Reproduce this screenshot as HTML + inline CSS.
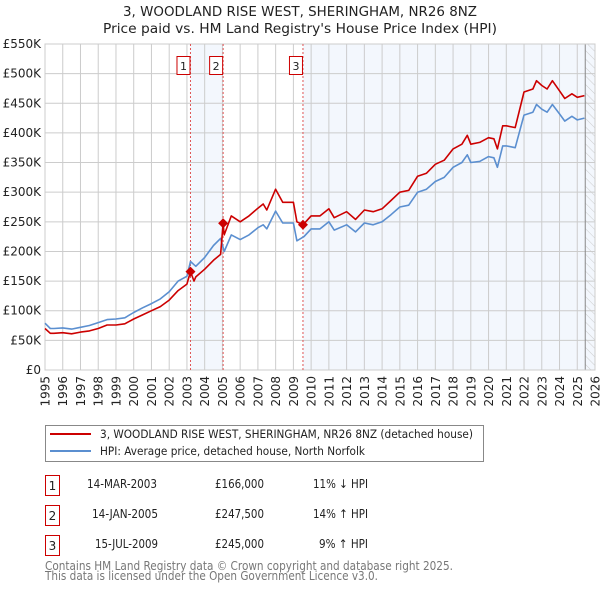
<!DOCTYPE html>
<html><head><meta charset="utf-8"><style>
body{margin:0;background:#fff;font-family:"Liberation Sans","DejaVu Sans",sans-serif;}
svg text{font-family:"DejaVu Sans","Liberation Sans",sans-serif;}
</style></head><body>
<svg id="c" width="600" height="590" xmlns="http://www.w3.org/2000/svg">
<defs><pattern id="hatch" width="6" height="6" patternUnits="userSpaceOnUse" patternTransform="rotate(-45)"><line x1="0" y1="0" x2="0" y2="6" stroke="#ccc" stroke-width="1"/></pattern></defs>
<text x="300" y="16" text-anchor="middle" font-size="13" fill="#222" textLength="354" lengthAdjust="spacingAndGlyphs">3, WOODLAND RISE WEST, SHERINGHAM, NR26 8NZ</text>
<text x="300" y="33" text-anchor="middle" font-size="13" fill="#222" textLength="394" lengthAdjust="spacingAndGlyphs">Price paid vs. HM Land Registry's House Price Index (HPI)</text>
<g id="plot"></g>
<g>
<rect x="45.5" y="425.5" width="438" height="36" fill="#fff" stroke="#888"/>
<line x1="50" y1="434" x2="91" y2="434" stroke="#cc0000" stroke-width="2"/>
<text x="100" y="438" font-size="11.5" fill="#222" textLength="373" lengthAdjust="spacingAndGlyphs">3, WOODLAND RISE WEST, SHERINGHAM, NR26 8NZ (detached house)</text>
<line x1="50" y1="451" x2="91" y2="451" stroke="#5b8fd0" stroke-width="2"/>
<text x="100" y="455" font-size="11.5" fill="#222" textLength="265" lengthAdjust="spacingAndGlyphs">HPI: Average price, detached house, North Norfolk</text>
</g>
<g font-size="12" fill="#222">
<rect x="45.5" y="475.5" width="14" height="20" fill="#fff" stroke="#cc0000"/><text x="52.5" y="490" text-anchor="middle">1</text>
<text x="87" y="488" textLength="70" lengthAdjust="spacingAndGlyphs">14-MAR-2003</text><text x="215" y="488" textLength="49" lengthAdjust="spacingAndGlyphs">£166,000</text><text x="313" y="488" textLength="55" lengthAdjust="spacingAndGlyphs">11% ↓ HPI</text>
<rect x="45.5" y="505.5" width="14" height="20" fill="#fff" stroke="#cc0000"/><text x="52.5" y="520" text-anchor="middle">2</text>
<text x="92" y="518" textLength="66" lengthAdjust="spacingAndGlyphs">14-JAN-2005</text><text x="215" y="518" textLength="49" lengthAdjust="spacingAndGlyphs">£247,500</text><text x="313" y="518" textLength="55" lengthAdjust="spacingAndGlyphs">14% ↑ HPI</text>
<rect x="45.5" y="535.5" width="14" height="20" fill="#fff" stroke="#cc0000"/><text x="52.5" y="550" text-anchor="middle">3</text>
<text x="95" y="548" textLength="63" lengthAdjust="spacingAndGlyphs">15-JUL-2009</text><text x="215" y="548" textLength="49" lengthAdjust="spacingAndGlyphs">£245,000</text><text x="319" y="548" textLength="49" lengthAdjust="spacingAndGlyphs">9% ↑ HPI</text>
</g>
<text x="45" y="570" font-size="12" fill="#777" textLength="408" lengthAdjust="spacingAndGlyphs">Contains HM Land Registry data © Crown copyright and database right 2025.</text>
<text x="45" y="580" font-size="12" fill="#777" textLength="333" lengthAdjust="spacingAndGlyphs">This data is licensed under the Open Government Licence v3.0.</text>
</svg>
<script>
const hpiYears=[1995,1995.3,1995.5,1996,1996.5,1997,1997.5,1998,1998.5,1999,1999.5,2000,2000.5,2001,2001.5,2002,2002.5,2003,2003.2,2003.5,2004,2004.5,2004.9,2005.1,2005.5,2006,2006.5,2007,2007.3,2007.5,2008,2008.4,2009,2009.2,2009.6,2010,2010.5,2011,2011.3,2012,2012.5,2013,2013.5,2014,2014.5,2015,2015.5,2016,2016.5,2017,2017.5,2018,2018.5,2018.8,2019,2019.5,2020,2020.3,2020.5,2020.8,2021,2021.5,2022,2022.5,2022.7,2023,2023.3,2023.6,2024,2024.3,2024.7,2025,2025.4];
const hpiValues=[79,70,70,71,69,72,75,80,85,86,88,97,105,112,120,132,150,158,183,175,190,210,222,200,228,220,228,240,245,238,268,248,248,218,225,238,238,250,236,245,233,248,245,250,262,275,278,300,305,318,325,342,350,363,350,352,360,358,342,378,378,375,430,435,448,440,435,448,432,420,428,422,425];
const redYears=[1995,1995.3,1995.5,1996,1996.5,1997,1997.5,1998,1998.5,1999,1999.5,2000,2000.5,2001,2001.5,2002,2002.5,2003,2003.2,2003.4,2003.5,2004,2004.5,2004.9,2005.04,2005.1,2005.5,2006,2006.5,2007,2007.3,2007.5,2008,2008.4,2009,2009.2,2009.54,2010,2010.5,2011,2011.3,2012,2012.5,2013,2013.5,2014,2014.5,2015,2015.5,2016,2016.5,2017,2017.5,2018,2018.5,2018.8,2019,2019.5,2020,2020.3,2020.5,2020.8,2021,2021.5,2022,2022.5,2022.7,2023,2023.3,2023.6,2024,2024.3,2024.7,2025,2025.4];
const redValues=[70,62,62,63,61,64,66,70,76,76,78,86,93,100,107,118,134,145,166,150,157,170,185,195,247.5,228,260,250,260,273,280,270,305,283,283,250,245,260,260,272,257,267,254,270,267,272,286,300,303,327,332,347,354,373,381,396,381,384,392,390,373,412,412,409,469,474,488,480,474,488,471,458,466,460,463];
const saleYears=[2003.2,2005.04,2009.54];
const saleValues=[166,247.5,245];
const saleLabels=["1","2","3"];
const yTicks=[0,50,100,150,200,250,300,350,400,450,500,550];
const yTickLabels=["£0","£50K","£100K","£150K","£200K","£250K","£300K","£350K","£400K","£450K","£500K","£550K"];
const xTicks=[1995,1996,1997,1998,1999,2000,2001,2002,2003,2004,2005,2006,2007,2008,2009,2010,2011,2012,2013,2014,2015,2016,2017,2018,2019,2020,2021,2022,2023,2024,2025,2026];
const dataEndYear=2025.45;

const X0=45,X1=595,Y0=370,Y1=44;
const xs=y=>X0+(y-1995)/(2026-1995)*(X1-X0);
const ys=v=>Y0-v/550*(Y0-Y1);
const NS="http://www.w3.org/2000/svg";
const g=document.getElementById('plot');
function mk(t,a,p){const e=document.createElementNS(NS,t);for(const k in a)e.setAttribute(k,a[k]);(p||g).appendChild(e);return e;}
let sh=mk('rect',{x:xs(saleYears[0]),y:Y1,width:xs(saleYears[1])-xs(saleYears[0]),height:Y0-Y1,fill:'#eef3fc',opacity:0.7});


sh=mk('rect',{x:xs(saleYears[2]),y:Y1,width:X1-xs(saleYears[2]),height:Y0-Y1,fill:'#eef3fc',opacity:0.7});


yTicks.forEach((v,i)=>{
  mk('line',{x1:X0,x2:X1,y1:ys(v),y2:ys(v),stroke:'#ccc','stroke-width':1});
  const t=mk('text',{x:X0-4,y:ys(v)+4,'text-anchor':'end','font-size':12,fill:'#222'});
  t.textContent=yTickLabels[i];
  
  
});
xTicks.forEach(y=>{
  mk('line',{x1:xs(y),x2:xs(y),y1:Y1,y2:Y0,stroke:'#ccc','stroke-width':1});
  const t=mk('text',{x:0,y:0,'text-anchor':'end','font-size':12,fill:'#222',transform:`translate(${xs(y)+4.5},376) rotate(-90)`});
  t.textContent=y;
  
  
});
const hr=mk('rect',{x:xs(dataEndYear),y:Y1,width:X1-xs(dataEndYear),height:Y0-Y1,fill:'url(#hatch)'});


mk('line',{x1:xs(dataEndYear),x2:xs(dataEndYear),y1:Y1,y2:Y0,stroke:'#888','stroke-width':1});
mk('rect',{x:X0,y:Y1,width:X1-X0,height:Y0-Y1,fill:'none',stroke:'#ccc'});
saleYears.forEach((s,i)=>{
  mk('line',{x1:xs(s),x2:xs(s),y1:Y1,y2:Y0,stroke:'#e05555','stroke-width':1,'stroke-dasharray':'2,2'});
  const r=mk('rect',{x:xs(s)-13.5,y:56.5,width:13,height:18,fill:'#fff',stroke:'#cc0000'});
  
  
  const t=mk('text',{x:xs(s)-7,y:70,'text-anchor':'middle','font-size':11,fill:'#222'});
  t.textContent=saleLabels[i];
});
function line(xa,va,col,name){
  const p=mk('polyline',{points:xa.map((y,i)=>xs(y).toFixed(1)+','+ys(va[i]).toFixed(1)).join(' '),fill:'none',stroke:col,'stroke-width':1.6,'stroke-linejoin':'round'});
  
  
}
line(hpiYears,hpiValues,'#5b8fd0','hpi-line');
line(redYears,redValues,'#cc0000','property-price-line');
saleYears.forEach((s,i)=>{
  const x=xs(s),y=ys(saleValues[i]);
  const d=mk('polygon',{points:`${x},${y-5} ${x+5},${y} ${x},${y+5} ${x-5},${y}`,fill:'#cc0000'});
  
  
});
</script>
</body></html>
